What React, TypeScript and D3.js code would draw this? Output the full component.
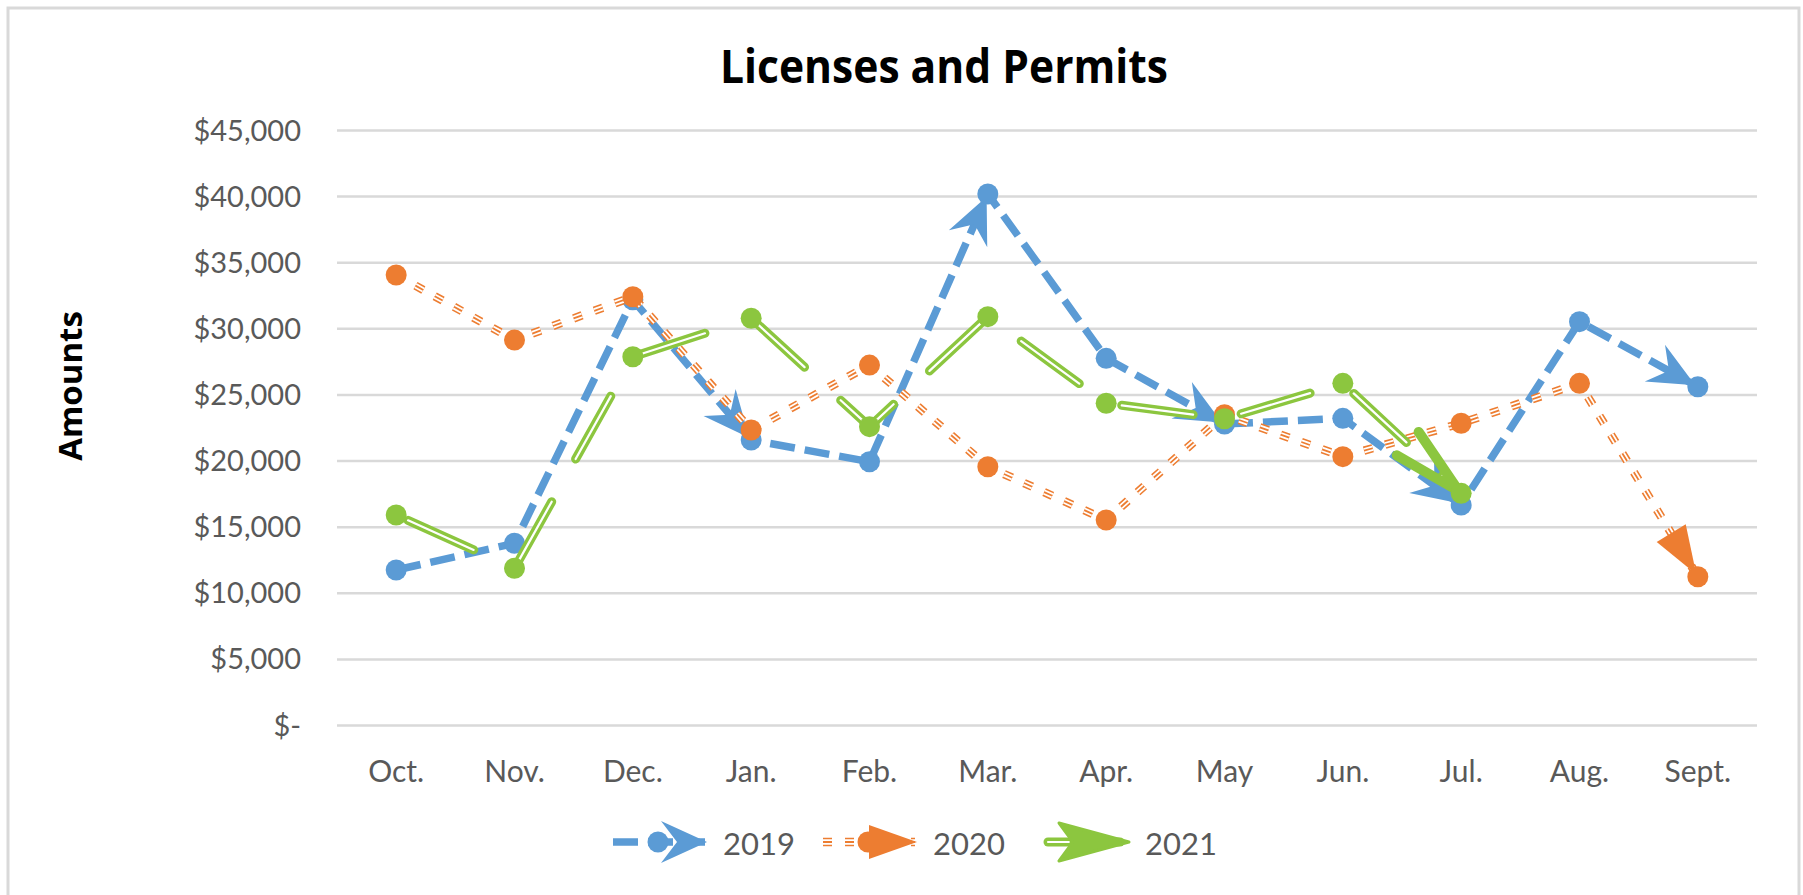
import * as d3 from 'd3';

const months = ['Oct.', 'Nov.', 'Dec.', 'Jan.', 'Feb.', 'Mar.', 'Apr.', 'May', 'Jun.', 'Jul.', 'Aug.', 'Sept.'];
const amounts2019 = [11760, 13780, 32200, 21590, 19950, 40200, 27770, 22800, 23230, 16680, 30540, 25620];
const amounts2020 = [34070, 29150, 32430, 22350, 27260, 19570, 15540, 23500, 20330, 22860, 25880, 11250];
const amounts2021: (number | null)[] = [15920, 11890, 27890, 30800, 22600, 30920, 24370, 23200, 25880, 17560, null, null];
// points where Excel drew the segment's end arrow
const arrows2019 = [3, 5, 7, 9, 11];
const arrows2020 = [11];
const arrows2021 = [9];
const seriesNames = ['2019', '2020', '2021'];
const yTicks = [0, 5000, 10000, 15000, 20000, 25000, 30000, 35000, 40000, 45000];
const yTickLabels = ['$-', '$5,000', '$10,000', '$15,000', '$20,000', '$25,000', '$30,000', '$35,000', '$40,000', '$45,000'];

const W = 1803;
const H = 895;
const BLUE = '#5B9BD5';
const ORANGE = '#ED7D31';
const GREEN = '#8CC63F';
const GREY = '#595959';

type Kind = 'blue' | 'orange' | 'green';

function StyledPath({ d, kind }: { d: string; kind: Kind }) {
  if (kind === 'blue') {
    return <path d={d} fill="none" stroke={BLUE} strokeWidth={7.5} strokeDasharray="25 10" />;
  }
  if (kind === 'orange') {
    // compound triple line
    return (
      <g fill="none" strokeDasharray="9 13">
        <path d={d} stroke={ORANGE} strokeWidth={8.5} />
        <path d={d} stroke="#fff" strokeWidth={5.3} />
        <path d={d} stroke={ORANGE} strokeWidth={1.8} />
      </g>
    );
  }
  // compound double line, long dash
  return (
    <g fill="none" strokeDasharray="72 49" strokeLinecap="round" strokeDashoffset={108}>
      <path d={d} stroke={GREEN} strokeWidth={9} />
      <path d={d} stroke="#fff" strokeWidth={2.2} />
    </g>
  );
}

function Arrow({ x, y, ux, uy, kind, legend = false }: { x: number; y: number; ux: number; uy: number; kind: Kind; legend?: boolean }) {
  const nx = -uy;
  const ny = ux;
  const tx = x - ux * 3;
  const ty = y - uy * 3;
  const pt = (back: number, side: number) => `${tx - ux * back + nx * side},${ty - uy * back + ny * side}`;
  if (kind === 'blue') {
    return <polygon points={[pt(0, 0), pt(46, 21), pt(30, 0), pt(46, -21)].join(' ')} fill={BLUE} />;
  }
  if (kind === 'orange') {
    return <polygon points={[pt(0, 0), pt(48, 17), pt(48, -17)].join(' ')} fill={ORANGE} />;
  }
  if (legend) {
    return <polygon points={[pt(0, 0), pt(70, 19), pt(56, 0), pt(70, -19)].join(' ')} fill={GREEN} stroke={GREEN} strokeWidth={3} strokeLinejoin="round" />;
  }
  return (
    <polyline
      points={[pt(70, 16), pt(0, 0), pt(70, -16)].join(' ')}
      fill="none"
      stroke={GREEN}
      strokeWidth={10}
      strokeLinejoin="round"
      strokeLinecap="round"
    />
  );
}

const colorOf: Record<Kind, string> = { blue: BLUE, orange: ORANGE, green: GREEN };

export default function App() {
  const x = d3.scalePoint<string>().domain(months).range([337, 1757]).padding(0.5);
  const y = d3.scaleLinear().domain([0, 45000]).range([725.5, 130.5]);

  const series: { name: string; values: (number | null)[]; arrows: number[]; kind: Kind }[] = [
    { name: seriesNames[0], values: amounts2019, arrows: arrows2019, kind: 'blue' },
    { name: seriesNames[1], values: amounts2020, arrows: arrows2020, kind: 'orange' },
    { name: seriesNames[2], values: amounts2021, arrows: arrows2021, kind: 'green' },
  ];

  const line = d3
    .line<number | null>()
    .defined((v) => v != null)
    .x((_, i) => x(months[i]) as number)
    .y((v) => y(v as number));

  const legendStarts = [613, 823, 1035];
  const legendY = 842;

  return (
    <svg width={W} height={H} style={{ position: 'absolute', left: 0, top: 0, background: '#fff' }}>
      <rect x={8} y={8} width={1791} height={900} fill="#fff" stroke="#d9d9d9" strokeWidth={3} />

      <text
        x={944}
        y={83}
        textAnchor="middle"
        fontFamily="'Open Sans', sans-serif"
        fontWeight={700}
        fontSize={46}
        textLength={448}
        lengthAdjust="spacingAndGlyphs"
        fill="#000"
      >
        Licenses and Permits
      </text>

      <text
        transform="translate(82,386) rotate(-90)"
        textAnchor="middle"
        fontFamily="'Open Sans', sans-serif"
        fontWeight={700}
        fontSize={33}
        fill="#000"
      >
        Amounts
      </text>

      {yTicks.map((t, i) => (
        <g key={t}>
          <line x1={337} x2={1757} y1={y(t)} y2={y(t)} stroke="#d9d9d9" strokeWidth={2.5} />
          <text
            x={301}
            y={y(t) + 10}
            textAnchor="end"
            fontFamily="Lato, sans-serif"
            fontSize={29}
            fill={GREY}
          >
            {yTickLabels[i]}
          </text>
        </g>
      ))}

      {months.map((m) => (
        <text
          key={m}
          x={x(m)}
          y={782}
          textAnchor="middle"
          fontFamily="Lato, sans-serif"
          fontSize={30}
          fill={GREY}
        >
          {m}
        </text>
      ))}

      {series.map((s) => (
        <g key={s.name}>
          <StyledPath d={line(s.values) || ''} kind={s.kind} />
          {s.arrows.map((i) => {
            const x0 = x(months[i - 1]) as number;
            const y0 = y(s.values[i - 1] as number);
            const x1 = x(months[i]) as number;
            const y1 = y(s.values[i] as number);
            const len = Math.hypot(x1 - x0, y1 - y0);
            return <Arrow key={i} x={x1} y={y1} ux={(x1 - x0) / len} uy={(y1 - y0) / len} kind={s.kind} />;
          })}
          {s.values.map((v, i) =>
            v == null ? null : (
              <circle key={i} cx={x(months[i])} cy={y(v)} r={10.5} fill={colorOf[s.kind]} />
            )
          )}
        </g>
      ))}

      {series.map((s, k) => {
        const sx = legendStarts[k];
        return (
          <g key={s.name}>
            <StyledPath d={`M${sx},${legendY}L${sx + 92},${legendY}`} kind={s.kind} />
            <circle cx={sx + 45} cy={legendY} r={10.5} fill={colorOf[s.kind]} />
            <Arrow x={sx + 97} y={legendY} ux={1} uy={0} kind={s.kind} legend />
            <text
              x={sx + 110}
              y={legendY + 13}
              fontFamily="Lato, sans-serif"
              fontSize={31}
              fill={GREY}
            >
              {s.name}
            </text>
          </g>
        );
      })}
    </svg>
  );
}
